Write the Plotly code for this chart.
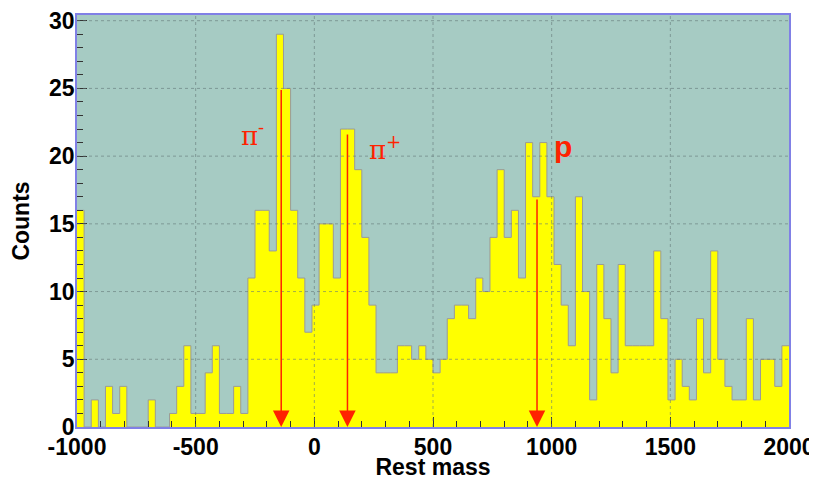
import numpy as np
import plotly.graph_objects as go

# ---- data -------------------------------------------------------------
x_start = -1000
bin_width = 30
counts = [
    16, 0, 2, 0, 3, 1, 3, 0, 0, 0, 2, 0, 0, 1, 3, 6, 1, 1, 4, 6, 1, 1, 3,
    1, 11, 16, 16, 13, 29, 25, 16, 11, 7, 9, 15, 15, 11, 22, 22, 19, 14, 9, 4, 4, 4, 6, 6, 5, 6, 5,
    4, 5, 8, 9, 9, 8, 11, 10, 14, 19, 14, 16, 11, 21, 17, 21, 17, 12, 9, 6, 17, 10, 2, 12, 8, 4,
    12, 6, 6, 6, 6, 13, 8, 2, 5, 3, 2, 8, 4, 13, 5, 3, 2, 2, 8, 2, 5, 5, 3, 6,
]
particle_labels = ["π<sup>-</sup>", "π<sup>+</sup>", "p"]
particle_masses = [-139.57, 139.57, 938.27]
arrow_tops = [25.0, 21.7, 16.9]
label_x = [-262, 298, 1048]
label_y = [21.6, 20.6, 20.7]

x_ticks = [-1000, -500, 0, 500, 1000, 1500, 2000]
x_tick_text = ["-1000", "-500", "0", "500", "1000", "1500", "2000"]
y_ticks = [0, 5, 10, 15, 20, 25, 30]

# ---- figure -----------------------------------------------------------
edges = x_start + bin_width * np.arange(len(counts) + 1)
step_y = list(counts) + [counts[-1]]

RED = "#ff2200"
BORDER = "#8080e6"
FONT = "Liberation Sans"

fig = go.Figure()
fig.add_trace(go.Scatter(
    x=edges, y=step_y, mode="lines", line_shape="hv",
    line=dict(color="#9a9a9a", width=1),
    fill="tozeroy", fillcolor="#ffff00", hoverinfo="skip",
))

# dotted grid drawn over the histogram (ROOT style)
shapes = []
for xv in x_ticks[1:-1]:
    shapes.append(dict(type="line", xref="x", yref="paper", x0=xv, x1=xv, y0=0, y1=1,
                       line=dict(color="rgba(100,120,120,0.6)", width=1, dash="dot"),
                       layer="above"))
for yv in y_ticks[1:]:
    shapes.append(dict(type="line", xref="paper", yref="y", x0=0, x1=1, y0=yv, y1=yv,
                       line=dict(color="rgba(100,120,120,0.6)", width=1, dash="dot"),
                       layer="above"))

annotations = []
for m, top in zip(particle_masses, arrow_tops):
    annotations.append(dict(
        x=m, y=0, ax=m, ay=top, xref="x", yref="y", axref="x", ayref="y",
        text="", showarrow=True, arrowhead=2, arrowsize=2.2, arrowwidth=1.5,
        arrowcolor=RED, standoff=0,
    ))
for lbl, lx, ly in zip(particle_labels, label_x, label_y):
    if lbl == "p":
        f = dict(family=FONT, size=30, color=RED, weight="bold")
    else:
        f = dict(family="DejaVu Serif", size=26, color=RED)
    annotations.append(dict(x=lx, y=ly, xref="x", yref="y", text=lbl,
                            showarrow=False, font=f))

# the page body adds an 8px offset; size the figure so the page is 817x480
fig.update_layout(
    width=809, height=472,
    margin=dict(l=69, r=28, t=7, b=53, autoexpand=False),
    paper_bgcolor="white", plot_bgcolor="#a6cbc3",
    showlegend=False,
    shapes=shapes, annotations=annotations,
    font=dict(family=FONT, color="black"),
)
fig.update_xaxes(
    range=[-1000, 2000], tickvals=x_ticks, ticktext=x_tick_text,
    showgrid=False, zeroline=False, automargin=False,
    showline=True, linecolor=BORDER, linewidth=1.5, mirror=True,
    ticks="inside", ticklen=10, tickcolor="#333", tickwidth=1,
    minor=dict(ticks="inside", ticklen=6, dtick=100, tick0=0, tickcolor="#333", showgrid=False),
    tickfont=dict(family=FONT, size=23, weight="bold"),
    ticklabelstandoff=-1, ticklabeloverflow="allow", layer="above traces",
    title=dict(text="Rest mass", font=dict(family=FONT, size=23, weight="bold"), standoff=5),
)
fig.update_yaxes(
    range=[0, 30.42], tickvals=y_ticks, showgrid=False, zeroline=False, automargin=False,
    showline=True, linecolor=BORDER, linewidth=1.5, mirror=True,
    ticks="inside", ticklen=10, tickcolor="#333", tickwidth=1,
    minor=dict(ticks="inside", ticklen=6, dtick=1, tick0=0, tickcolor="#333", showgrid=False),
    tickfont=dict(family=FONT, size=23, weight="bold"),
    ticklabelstandoff=-4, ticklabeloverflow="allow", layer="above traces",
    title=dict(text="Counts", font=dict(family=FONT, size=23, weight="bold"), standoff=14),
)

fig.write_html("out.html")
